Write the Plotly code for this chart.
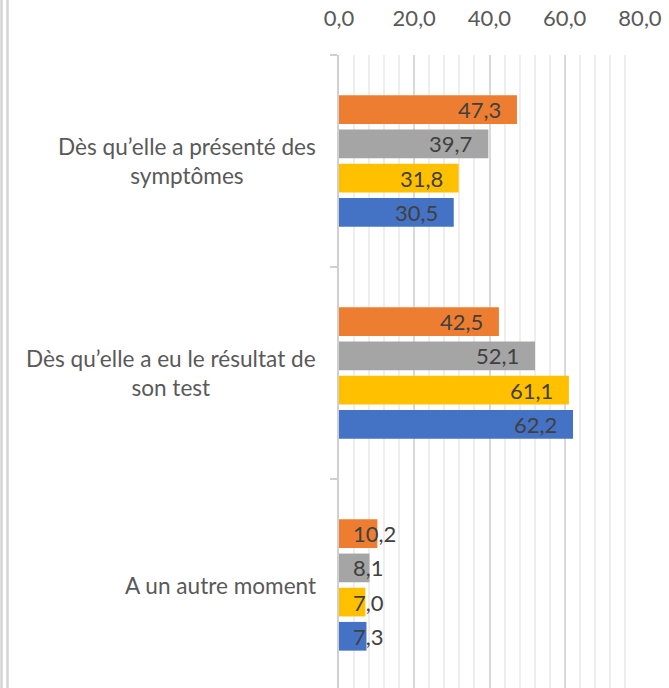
import plotly.graph_objects as go

categories = ["Dès qu’elle a présenté des<br>symptômes",
              "Dès qu’elle a eu le résultat de<br>son test",
              "A un autre moment"]
series_names = ["Série 1", "Série 2", "Série 3", "Série 4"]
series_colors = ["#ED7D31", "#A5A5A5", "#FFC000", "#4472C4"]
values = [
    [47.3, 42.5, 10.2],
    [39.7, 52.1, 8.1],
    [31.8, 61.1, 7.0],
    [30.5, 62.2, 7.3],
]
x_ticks = [0, 20, 40, 60, 80]

W, H = 669, 688
ML, MR, MT, MB = 339, 29, 55, 0
BARGAP = 0.355
BARGROUPGAP = 0.16
FONT = "Lato"
FS = 22

fig = go.Figure()
for name, col, vals in zip(series_names, series_colors, values):
    fig.add_trace(go.Bar(
        y=list(range(len(categories))), x=vals, name=name, orientation="h",
        marker=dict(color=col, line=dict(width=0)), showlegend=False,
        hoverinfo="x+name",
    ))

n = len(series_names)
slot = (1 - BARGAP) / n
px_per_unit = (W - ML - MR) / (x_ticks[-1] - x_ticks[0])
anns = []
for k, vals in enumerate(values):
    for i, v in enumerate(vals):
        yv = i + (k - (n - 1) / 2) * slot
        txt = f"{v:.1f}".replace(".", ",")
        if v * px_per_unit < 70:
            anns.append(dict(x=0, y=yv, xref="x", yref="y", text=txt,
                             xanchor="left", xshift=12, showarrow=False,
                             font=dict(family=FONT, size=FS, color="#404040")))
        else:
            anns.append(dict(x=v, y=yv, xref="x", yref="y", text=txt,
                             xanchor="right", xshift=-14, showarrow=False,
                             font=dict(family=FONT, size=FS, color="#404040")))

for i, c in enumerate(categories):
    anns.append(dict(x=0, y=i, xref="paper", yref="y", text=c,
                     xanchor="right", xshift=-21, align="center", showarrow=False,
                     font=dict(family=FONT, size=22.6, color="#595959")))

y_bottom = -0.5 + (H - MT - MB) / 212.0

shapes = []
for pxx in (1.5, 7.5):
    xp = (pxx - ML) / (W - ML - MR)
    shapes.append(dict(type="line", xref="paper", yref="paper", x0=xp, x1=xp,
                       y0=-0.01, y1=1 + MT / (H - MT - MB) + 0.01,
                       line=dict(color="#d4d4d4", width=2.5)))

fig.update_layout(
    width=W, height=H,
    margin=dict(l=ML, r=MR, t=MT, b=MB, pad=0),
    paper_bgcolor="white", plot_bgcolor="white",
    barmode="group", bargap=BARGAP, bargroupgap=BARGROUPGAP,
    separators=", ",
    font=dict(family=FONT, size=FS, color="#595959"),
    annotations=anns, shapes=shapes,
    xaxis=dict(range=[x_ticks[0], x_ticks[-1]], side="top", tickvals=x_ticks,
               tickformat=".1f", showgrid=True, gridcolor="#d9d9d9", gridwidth=2,
               minor=dict(dtick=4, showgrid=True, gridcolor="#eeeeee", gridwidth=2),
               zeroline=False, showline=False, ticks="", ticklabelstandoff=24,
               tickfont=dict(family=FONT, size=FS, color="#595959")),
    yaxis=dict(range=[y_bottom, -0.5], showticklabels=False, showgrid=False,
               zeroline=False, showline=True, linecolor="#d0d0d0", linewidth=2,
               ticks="outside", ticklen=7, tickcolor="#d0d0d0", tickwidth=2,
               tickvals=[-0.5, 0.5, 1.5, 2.5]),
)

fig.write_html("out.html", config={"displayModeBar": False},
               post_script="document.body.style.margin='0';")
